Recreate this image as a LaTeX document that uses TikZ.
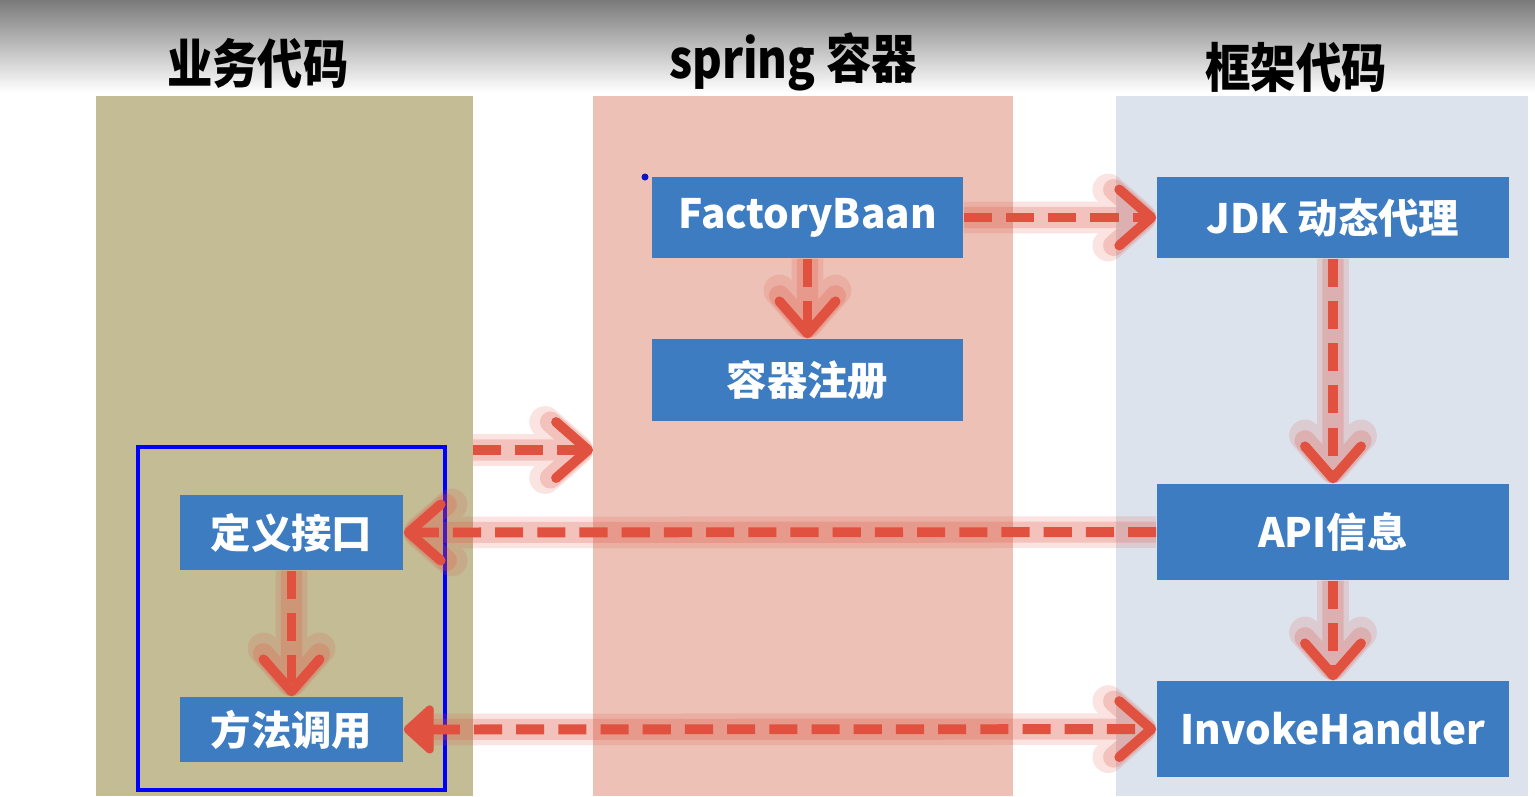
\documentclass[tikz,border=0pt]{standalone}
\usepackage{fontspec}
\setmainfont{Noto Sans CJK SC}
\usetikzlibrary{arrows.meta,positioning}
\definecolor{bizcol}{HTML}{C3BC95}
\definecolor{springcol}{HTML}{EDC1B5}
\definecolor{framecol}{HTML}{DCE3ED}
\definecolor{boxblue}{HTML}{3D7CC0}
\definecolor{arrowred}{HTML}{E0513F}
\definecolor{dotblue}{HTML}{1010C8}
\tikzset{
  coltitle/.style={font=\fontsize{15}{15}\selectfont\bfseries,xscale=0.86,transform shape,inner sep=0},
  blk/.style={fill=boxblue,text=white,font=\fontsize{11.5}{11.5}\selectfont\bfseries,inner sep=0},
  flow/.style={draw=arrowred,line width=2.8pt,dash pattern=on 8pt off 4pt},
  glow/.style={draw=arrowred,line width=#1},
  tip/.tip={Straight Barb[round,length=3.2mm,width=5.6mm]},
  fulltip/.tip={Triangle[round,length=3.2mm,width=5.6mm]}
}
% connectors: from / to / tips
\def\flowlist{fb/jdk/-tip, fb/reg/-tip, jdk/api/-tip, api/ih/-tip, fs/fe/-tip,
  api/iface/-tip, iface/call/-tip, call/ih/fulltip-tip}
\begin{document}
\begin{tikzpicture}[x=0.01cm,y=-0.01cm]
        \useasboundingbox (0,0) rectangle (1535,796);
        \fill[white] (0,0) rectangle (1535,796);
        % grey band at the top
        \shade[top color=black!52,bottom color=white] (0,0) rectangle (1535,92);
        % the three columns
        \fill[bizcol] (96,96) rectangle (473,796);
        \fill[springcol] (593,96) rectangle (1013,796);
        \fill[framecol] (1116,96) rectangle (1528,796);
        \node[coltitle] (tbiz) at (258,63) {业务代码};
        \node[coltitle] (tspring) at (793,62) {spring 容器};
        \node[coltitle] (tframe) at (1296,67) {框架代码};
        % boxes
        \node[blk,minimum width=3.11cm,minimum height=0.81cm] (fb) at (807.5,217.5) {FactoryBaan};
        \node[blk,minimum width=3.11cm,minimum height=0.82cm] (reg) at (807.5,380) {容器注册};
        \node[blk,minimum width=3.52cm,minimum height=0.81cm] (jdk) at (1333,217.5) {JDK 动态代理};
        \node[blk,minimum width=3.52cm,minimum height=0.96cm] (api) at (1333,532) {API信息};
        \node[blk,minimum width=3.52cm,minimum height=0.96cm] (ih) at (1333,729) {InvokeHandler};
        \node[blk,minimum width=2.23cm,minimum height=0.75cm] (iface) at (291.5,532.5) {定义接口};
        \node[blk,minimum width=2.23cm,minimum height=0.65cm] (call) at (291.5,729.5) {方法调用};
        % blue frame and dot
        \draw[blue,line width=1.3pt] (138,447) rectangle (445,790);
        \fill[dotblue] (645,177) circle[radius=0.035cm];
        % arrows
        \coordinate (fs) at (473,450);
        \coordinate (fe) at (593,450);
        \begin{scope}[transparency group,opacity=.16]
          \foreach \a/\b/\t in \flowlist \draw[glow=9pt,\t] (\a) -- (\b);
        \end{scope}
        \begin{scope}[transparency group,opacity=.22]
          \foreach \a/\b/\t in \flowlist \draw[glow=6pt,\t] (\a) -- (\b);
        \end{scope}
        \foreach \a/\b/\t in \flowlist \draw[flow,\t] (\a) -- (\b);
\end{tikzpicture}
\end{document}
